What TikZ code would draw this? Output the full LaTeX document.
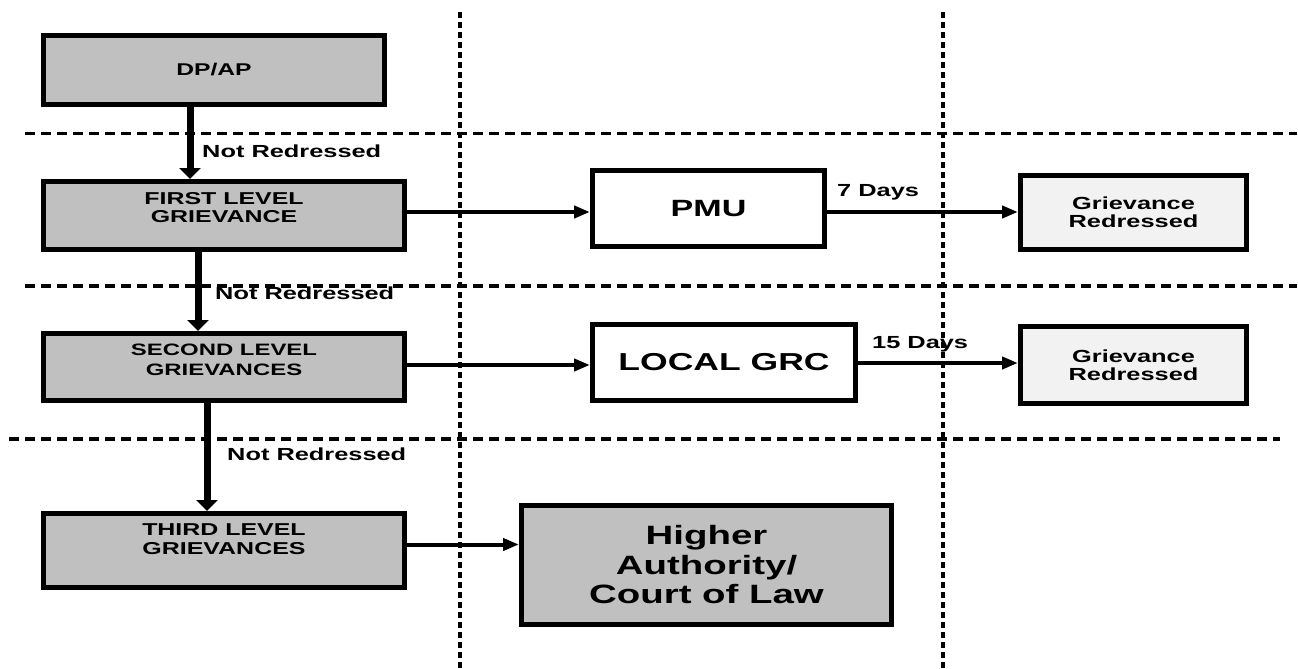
\documentclass[tikz,border=0pt]{standalone}
\usepackage{fontspec}
\newfontfamily\af[FakeStretch=1.45]{Liberation Sans}
\usetikzlibrary{arrows.meta}
\definecolor{boxgray}{HTML}{C0C0C0}
\definecolor{lightbox}{HTML}{F2F2F2}
\begin{document}
\begin{tikzpicture}[x=1pt,y=-1pt,
  box/.style={draw=black, line width=5pt, inner sep=0pt, align=center},
  gbox/.style={box, fill=boxgray},
  wbox/.style={box, fill=white},
  lbox/.style={box, fill=lightbox},
  varrow/.style={line width=7pt, -{Triangle[width=21pt,length=11pt]}},
  harrow/.style={line width=4pt, -{Triangle[width=12pt,length=16pt]}},
  hdash/.style={line width=3.5pt, dash pattern=on 10pt off 6pt},
  vdot/.style={line width=3.5pt, dash pattern=on 6pt off 4pt},
  lbl/.style={inner sep=0pt, font=\af\bfseries\fontsize{17.5}{18}\selectfont}]
\useasboundingbox (0,0) rectangle (1298,669);

% grid of dashed / dotted separators
\draw[hdash] (25,133.5) -- (1297,133.5);
\draw[hdash] (25,286) -- (1297,286);
\draw[hdash] (9,439) -- (1280,439);
\draw[vdot] (460,12) -- (460,669);
\draw[vdot] (943,12) -- (943,669);

% boxes
\node[gbox, minimum width=341pt, minimum height=69pt,
      font=\af\bfseries\fontsize{17}{18}\selectfont] (dp) at (214,70) {DP/AP};
\node[gbox, minimum width=361pt, minimum height=68pt,
      font=\af\bfseries\fontsize{17.2}{18}\selectfont] (first) at (224,215.5)
      {FIRST LEVEL\\GRIEVANCE\rule[-17pt]{0pt}{17pt}};
\node[gbox, minimum width=361pt, minimum height=67pt,
      font=\af\bfseries\fontsize{16.5}{20}\selectfont] (second) at (224,367)
      {SECOND LEVEL\\GRIEVANCES\rule[-14pt]{0pt}{14pt}};
\node[gbox, minimum width=361pt, minimum height=74pt,
      font=\af\bfseries\fontsize{17.2}{19.3}\selectfont] (third) at (224,550.5)
      {THIRD LEVEL\\GRIEVANCES\rule[-23pt]{0pt}{23pt}};
\node[wbox, minimum width=232pt, minimum height=76pt,
      font=\af\bfseries\fontsize{23.5}{26}\selectfont] (pmu) at (708.5,208.5) {PMU};
\node[wbox, minimum width=263pt, minimum height=76pt,
      font=\af\bfseries\fontsize{24.5}{27}\selectfont] (grc) at (724,362.5) {LOCAL GRC};
\node[lbox, minimum width=226pt, minimum height=74pt,
      font=\af\bfseries\fontsize{17.5}{18}\selectfont] (gr1) at (1133.5,212.5) {Grievance\\Redressed};
\node[lbox, minimum width=226pt, minimum height=77pt,
      font=\af\bfseries\fontsize{17.5}{18}\selectfont] (gr2) at (1133.5,365) {Grievance\\Redressed};
\node[gbox, minimum width=370pt, minimum height=119pt,
      font=\af\bfseries\fontsize{26.5}{29.5}\selectfont] (higher) at (706.5,565)
      {Higher\\Authority/\\Court of Law};

% vertical connectors
\draw[varrow] ([xshift=-24pt]dp.south) -- ([xshift=-34pt]first.north);
\draw[varrow] ([xshift=-26pt]first.south) -- ([xshift=-26pt]second.north);
\draw[varrow] ([xshift=-17pt]second.south) -- ([xshift=-17pt]third.north);

% horizontal connectors
\coordinate (s1) at ([yshift=3.5pt]first.east);
\draw[harrow] (s1) -- (s1 -| pmu.west);
\coordinate (s2) at ([yshift=-3.5pt]pmu.east);
\draw[harrow] (s2) -- (s2 -| gr1.west);
\coordinate (s3) at ([yshift=2pt]second.east);
\draw[harrow] (s3) -- (s3 -| grc.west);
\coordinate (s4) at ([yshift=-0.5pt]grc.east);
\draw[harrow] (s4) -- (s4 -| gr2.west);
\coordinate (s5) at ([yshift=6pt]third.east);
\draw[harrow] (s5) -- (s5 -| higher.west);

% labels
\node[lbl, anchor=base west] (nr1) at (202,157) {Not Redressed};
\node[lbl, anchor=base west] (nr2) at (215,299.5) {Not Redressed};
\node[lbl, anchor=base west] (nr3) at (227,460) {Not Redressed};
\node[lbl, anchor=base west] (d7) at (837,196) {7 Days};
\node[lbl, anchor=base west] (d15) at (872,348) {15 Days};
\end{tikzpicture}
\end{document}
